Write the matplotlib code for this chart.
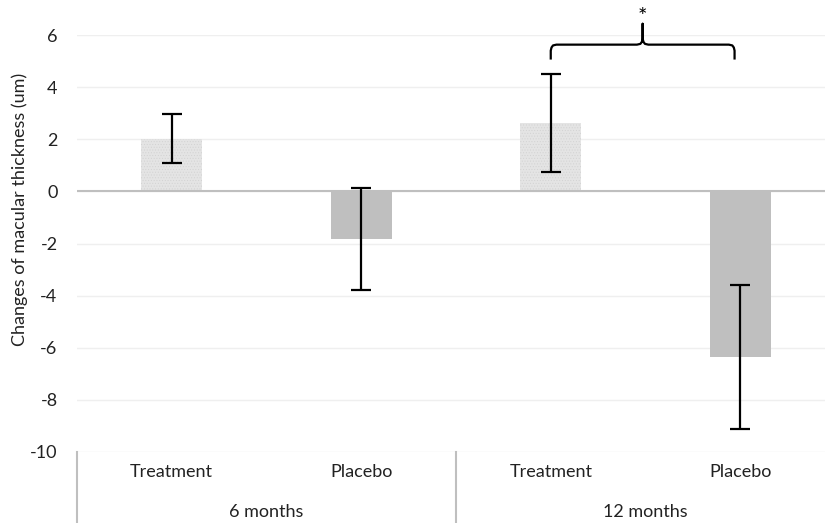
import matplotlib
matplotlib.use("Agg")
import matplotlib.pyplot as plt
from matplotlib.transforms import blended_transform_factory

plt.rcParams['font.family'] = ['Lato', 'DejaVu Sans']
plt.rcParams['hatch.linewidth'] = 0.4

# data
groups = ['6 months', '12 months']
arms = ['Treatment', 'Placebo', 'Treatment', 'Placebo']
means = [2.02, -1.82, 2.63, -6.35]
errs = [0.95, 1.95, 1.88, 2.76]
yticks = [6, 4, 2, 0, -2, -4, -6, -8, -10]

fs = 13
fig = plt.figure(figsize=(8.25, 5.23), dpi=100)
ax = fig.add_axes([77 / 825, 71 / 523, 758 / 825, 417 / 523])

x = list(range(len(arms)))
for i in x:
    if arms[i] == 'Treatment':
        ax.bar(i, means[i], width=0.32, color='#e4e4e4', hatch='......',
               edgecolor='#d2d2d2', linewidth=0, zorder=2)
    else:
        ax.bar(i, means[i], width=0.32, color='#bfbfbf', linewidth=0, zorder=2)

ax.errorbar(x, means, yerr=errs, fmt='none', ecolor='black', elinewidth=1.6,
            capsize=7, capthick=1.6, zorder=4)

ax.set_xlim(-0.5, 3.5)
ax.set_ylim(-10, 6)
ax.set_yticks(yticks)
ax.set_yticklabels([str(t) for t in yticks], fontsize=fs, color='#222222')
ax.tick_params(axis='y', length=0, pad=14)
ax.set_xticks([])
for s in ax.spines.values():
    s.set_visible(False)
ax.grid(axis='y', color='#efefef', linewidth=1, zorder=0)
ax.axhline(0, color='#bfbfbf', linewidth=1.5, zorder=3)
ax.set_ylabel('Changes of macular thickness (um)', fontsize=fs, color='#222222')
ax.yaxis.set_label_coords(-49 / 758, (452 - 209) / 417)

# two level category axis below the plot
tr = blended_transform_factory(ax.transData, ax.transAxes)
depth = 71 / 417
for xv in [-0.5, 1.5, 3.5]:
    ax.plot([xv, xv], [0, -depth], transform=tr, color='#bfbfbf', linewidth=1.5, clip_on=False)
for i in x:
    ax.text(i, -20 / 417, arms[i], transform=tr, ha='center', va='center',
            fontsize=fs, color='#222222')
for g, name in enumerate(groups):
    ax.text(2 * g + 0.5, -60 / 417, name, transform=tr, ha='center', va='center',
            fontsize=fs, color='#222222')

# significance bracket (curly brace)
bx0, bx1 = 2.0, 2.97
mid = (bx0 + bx1) / 2
bxs = [bx0, bx0, bx0 + 0.004, bx0 + 0.012, bx0 + 0.03,
       mid - 0.03, mid - 0.012, mid - 0.004, mid, mid,
       mid, mid + 0.004, mid + 0.012, mid + 0.03,
       bx1 - 0.03, bx1 - 0.012, bx1 - 0.004, bx1, bx1]
bys = [5.1, 5.4, 5.52, 5.6, 5.63,
       5.63, 5.66, 5.74, 5.86, 6.43,
       5.86, 5.74, 5.66, 5.63,
       5.63, 5.6, 5.52, 5.4, 5.1]
ax.plot(bxs, bys, color='black', linewidth=1.6, clip_on=False,
        solid_joinstyle='round')
ax.text(mid, 6.68, '*', ha='center', va='center', fontsize=16, clip_on=False)

fig.savefig('out.png', dpi=100)
